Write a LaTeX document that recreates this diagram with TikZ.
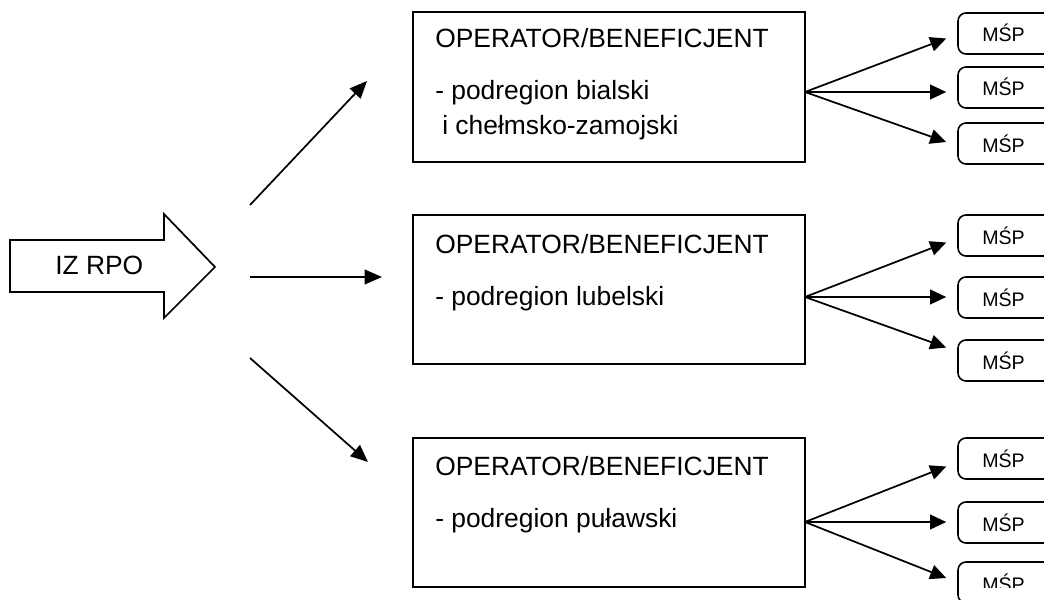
\documentclass[tikz,border=0pt]{standalone}
\usepackage{fontspec}
\setmainfont{Liberation Sans}
\usetikzlibrary{arrows.meta,fit,calc}
\tikzset{
  obox/.style={draw, line width=1.6pt, inner sep=0pt},
  mbox/.style={draw, line width=1.2pt, inner sep=0pt, rounded corners=6pt},
  big/.style={font=\fontsize{19.8}{23}\selectfont, inner sep=0pt, anchor=base west},
  small/.style={font=\fontsize{14.7}{17}\selectfont, inner sep=0pt, anchor=base west},
  arr/.style={line width=1.3pt, -{Triangle[length=13pt,width=11pt]}},
  farr/.style={line width=1.3pt, -{Triangle[length=12pt,width=11pt]}},
}
\begin{document}
\begin{tikzpicture}[x=0.75pt,y=-0.75pt]
\useasboundingbox[fill=white] (0,0) rectangle (1044,599);
% block arrow
\draw[line width=1.3pt, line join=miter] (10,240) -- (164,240) -- (164,214) -- (215,267)
  -- (164,318) -- (164,292) -- (10,292) -- cycle;
\node[big] (iz) at (55,274) {IZ RPO};
% operator boxes
\node[obox, fit={(413,12) (805,162)}] (b1) {};
\node[obox, fit={(413,215) (805,364)}] (b2) {};
\node[obox, fit={(413,438) (805,587)}] (b3) {};
\node[big] (t1) at (435,48) {OPERATOR/BENEFICJENT};
\node[big] (t1a) at (435,100) {- podregion bialski};
\node[big] (t1b) at (442,135) {i chełmsko-zamojski};
\node[big] (t2) at (435,253) {OPERATOR/BENEFICJENT};
\node[big] (t2a) at (435,305) {- podregion lubelski};
\node[big] (t3) at (435,475) {OPERATOR/BENEFICJENT};
\node[big] (t3a) at (435,527) {- podregion puławski};
% arrows from block arrow
\coordinate (s1) at (250,205); \coordinate (e1) at (367,81);
\coordinate (s2) at (250,277); \coordinate (e2) at (382,277);
\coordinate (s3) at (250,358); \coordinate (e3) at (368,462);
\draw[arr] (s1) -- (e1);
\draw[arr] (s2) -- (e2);
\draw[arr] (s3) -- (e3);
% MSP boxes
\newcommand{\mspbox}[3]{%
  \node[mbox, fit={(958,#2) (1070,#2+41)}] (#1) {};
  \begin{scope}
    \clip (950,#2) rectangle (1044,#2+#3);
    \node[small] (#1t) at (982,#2+29) {MŚP};
  \end{scope}}
\mspbox{m11}{13}{31}
\mspbox{m12}{67}{40}
\mspbox{m13}{123}{28}
\mspbox{m21}{215}{30}
\mspbox{m22}{277}{40}
\mspbox{m23}{340}{28}
\mspbox{m31}{438}{29}
\mspbox{m32}{502}{29.5}
\mspbox{m33}{562}{25}
% fans
\coordinate (o1) at (805,92);
\coordinate (o2) at (805,297);
\coordinate (o3) at (805,522);
\draw[farr] (o1) -- ($(m11.west)+(-11,5)$);
\draw[farr] (o1) -- ($(m12.west)+(-11,4.5)$);
\draw[farr] (o1) -- ($(m13.west)+(-11,-1.5)$);
\draw[farr] (o2) -- ($(m21.west)+(-11,7)$);
\draw[farr] (o2) -- ($(m22.west)+(-11,-0.5)$);
\draw[farr] (o2) -- ($(m23.west)+(-11,-13)$);
\draw[farr] (o3) -- ($(m31.west)+(-11,8)$);
\draw[farr] (o3) -- ($(m32.west)+(-11,-0.5)$);
\draw[farr] (o3) -- ($(m33.west)+(-11,-4.5)$);
\end{tikzpicture}
\end{document}
